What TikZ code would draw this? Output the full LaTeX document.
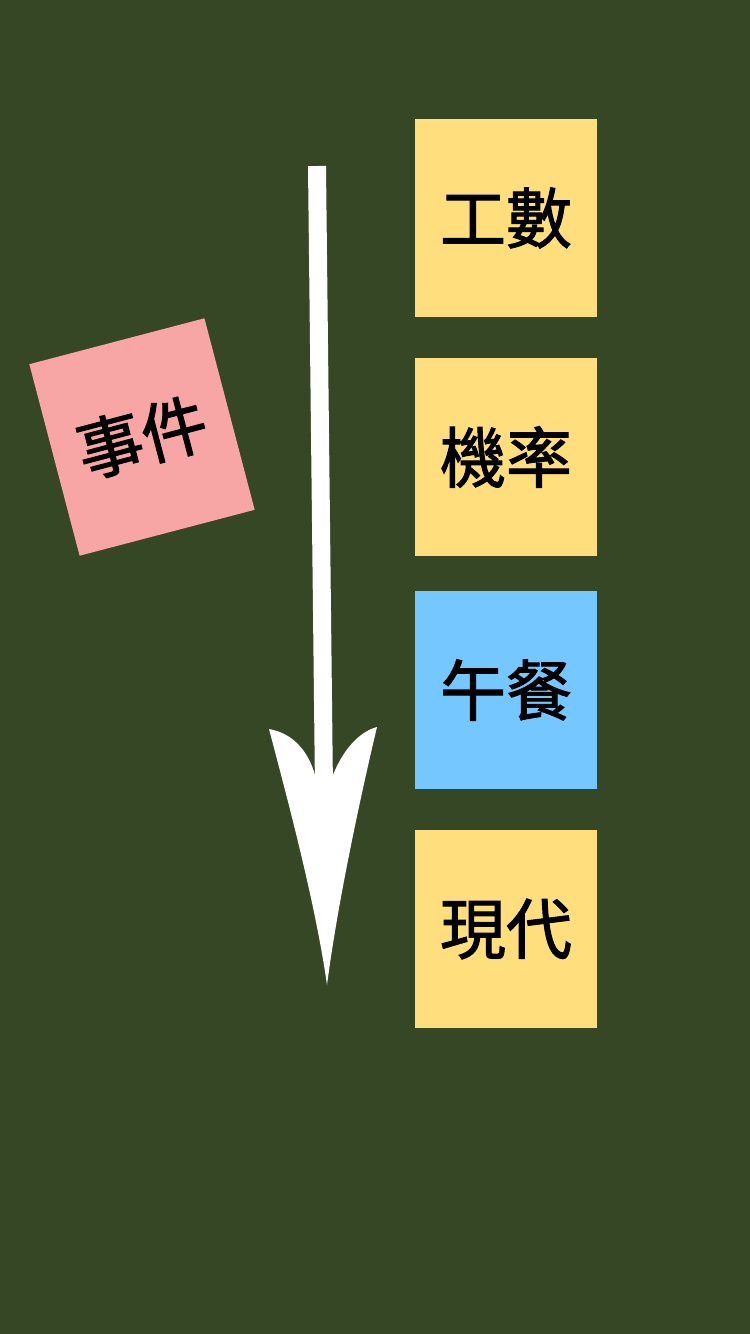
\documentclass[tikz,border=0pt]{standalone}
\usepackage{fontspec}
\newfontfamily\cjk[FakeBold=1.6]{Noto Sans CJK TC}
\definecolor{bg}{RGB}{54,71,38}
\definecolor{sy}{RGB}{255,223,125}
\definecolor{sb}{RGB}{117,200,255}
\definecolor{sp}{RGB}{248,165,165}
\tikzset{
  sticky/.style={draw=none, inner sep=0pt, minimum width=182pt, minimum height=198pt,
    font=\cjk\fontsize{66}{66}\selectfont, text=black},
  arrowbody/.style={fill=white, draw=none}
}
\begin{document}
\begin{tikzpicture}[x=1pt,y=-1pt]
\fill[bg] (0,0) rectangle (750,1334);
\useasboundingbox (0,0) rectangle (750,1334);
% stickies
\node[sticky, fill=sy] (s1) at (506,218) {工數};
\node[sticky, fill=sy] (s2) at (506,457) {機率};
\node[sticky, fill=sb] (s3) at (506,690) {午餐};
\node[sticky, fill=sy] (s4) at (506,929) {現代};
\node[sticky, fill=sp, minimum width=181pt, minimum height=198pt, rotate=14.7] (ev) at (142,437) {事件};
% arrow
\coordinate (top) at (317,166);
\coordinate (join) at (324,790);
\coordinate (tip) at (327,985);
\coordinate (lb) at (269,729);
\coordinate (rb) at (377,727);
\draw[white, line width=18pt] (top) -- (join);
\fill[arrowbody] (tip) .. controls (315,900) and (285,790) .. (lb)
  .. controls (292,733) and (308,750) .. (315,775) -- (333,775)
  .. controls (342,752) and (358,732) .. (rb)
  .. controls (362,790) and (338,900) .. (tip) -- cycle;
\end{tikzpicture}
\end{document}
